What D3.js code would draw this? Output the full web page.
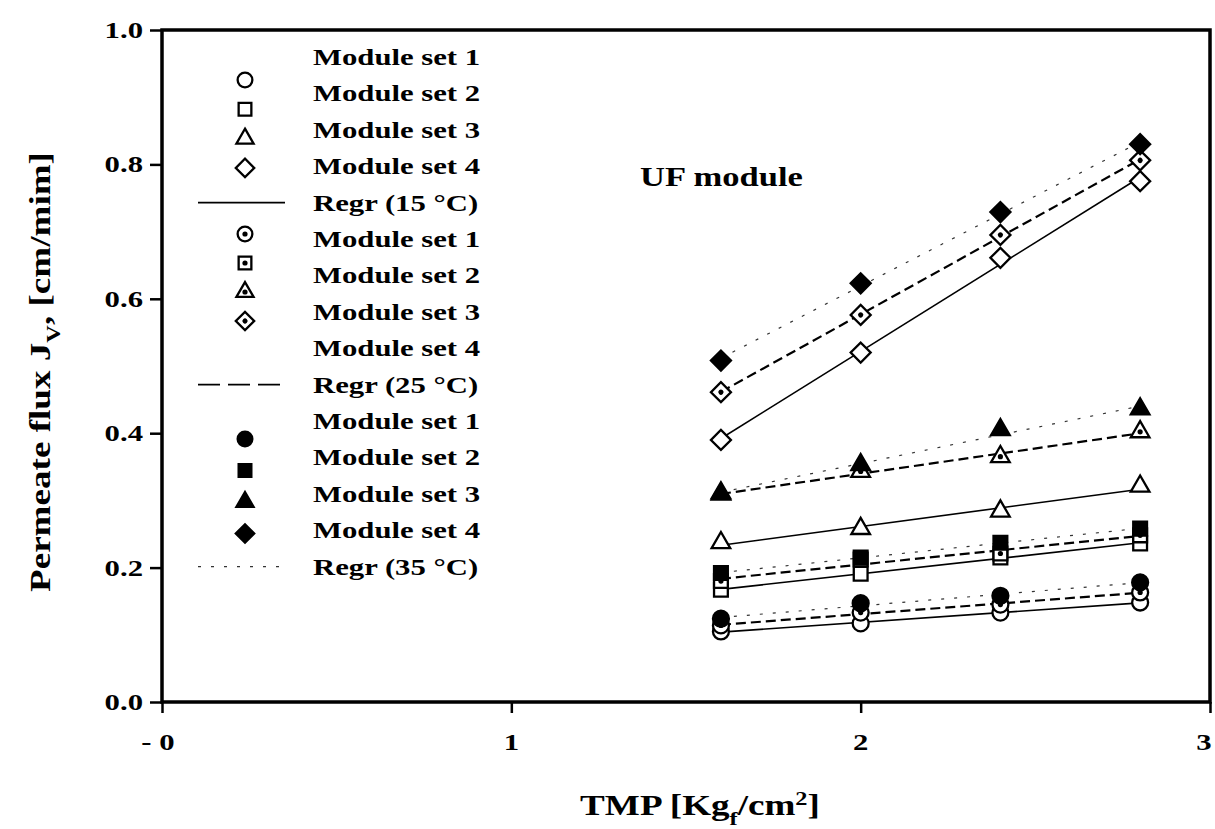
<!DOCTYPE html>
<html>
<head>
<meta charset="utf-8">
<script src="https://cdn.jsdelivr.net/npm/d3@7"></script>
<style>
  body { margin: 0; background: #fff; }
  svg { display: block; }
  text { font-family: "Liberation Serif", "Times New Roman", serif; font-weight: bold; fill: #000; }
</style>
</head>
<body>
<svg width="1215" height="829"></svg>
<script>
// TMP values (Kgf/cm2) where flux was measured
const tmp = [1.6, 2.0, 2.4, 2.8];
const moduleNames = ["Module set 1", "Module set 2", "Module set 3", "Module set 4"];
const tempNames = ["15", "25", "35"];

// permeate flux, one row per module set
const flux15 = [
  [0.105, 0.117, 0.133, 0.148],
  [0.167, 0.191, 0.215, 0.236],
  [0.237, 0.258, 0.284, 0.321],
  [0.390, 0.520, 0.661, 0.775]
];
const flux25 = [
  [0.114, 0.133, 0.145, 0.163],
  [0.180, 0.212, 0.221, 0.248],
  [0.309, 0.343, 0.365, 0.402],
  [0.461, 0.576, 0.695, 0.806]
];
const flux35 = [
  [0.124, 0.147, 0.158, 0.178],
  [0.192, 0.215, 0.237, 0.258],
  [0.311, 0.353, 0.405, 0.436],
  [0.508, 0.623, 0.729, 0.830]
];
const xTicks = [0, 1, 2, 3];
const yTicks = [0, 0.2, 0.4, 0.6, 0.8, 1.0];

const STRETCH = 1.28; // the figure's lettering is wide
const svg = d3.select("svg");

const x = d3.scaleLinear().domain([0, 3]).range([162, 1210]);
const y = d3.scaleLinear().domain([0, 1]).range([702, 30]);

function label(g, px, py, extra) {
  return g.append("text")
    .attr("transform", "translate(" + px + "," + py + ")" + (extra || "") + " scale(" + STRETCH + ",1)");
}

// regression line y = a + b*x
function fit(xs, ys) {
  const mx = d3.mean(xs), my = d3.mean(ys);
  let sxy = 0, sxx = 0;
  xs.forEach((v, i) => { sxy += (v - mx) * (ys[i] - my); sxx += (v - mx) * (v - mx); });
  const b = sxy / sxx;
  return { a: my - b * mx, b: b };
}

const symbolTypes = [d3.symbolCircle, d3.symbolSquare, d3.symbolTriangle, d3.symbolSquare];
const symbolSizes = [200, 190, 150, 200];
const symbolRot = [0, 0, 0, 45];
const lineStyles = [
  { dash: null, width: 1.6, color: "#000" },
  { dash: "10,5", width: 2.2, color: "#000" },
  { dash: "3,10", width: 1.2, color: "#333" }
];
const legendDash = [null, "22,8", "3,10"];

function drawMarker(g, cx, cy, s, t, size) {
  const sym = d3.symbol().type(symbolTypes[s]).size(size || symbolSizes[s]);
  const m = g.append("g").attr("transform", "translate(" + cx + "," + cy + ") rotate(" + symbolRot[s] + ")");
  m.append("path").attr("d", sym())
    .attr("fill", t === 2 ? "#000" : "#fff")
    .attr("stroke", "#000")
    .attr("stroke-width", 2.3);
  if (t === 1) {
    m.append("circle").attr("r", 2.6).attr("fill", "#000");
  }
}

// frame
svg.append("rect")
  .attr("x", x(0)).attr("y", y(1))
  .attr("width", x(3) - x(0)).attr("height", y(0) - y(1))
  .attr("fill", "none").attr("stroke", "#000").attr("stroke-width", 3.5);

// axes (ticks only, labels drawn below with the wide lettering)
const yAxis = svg.append("g").attr("transform", "translate(" + x(0) + ",0)")
  .call(d3.axisLeft(y).tickValues(yTicks).tickSize(12).tickFormat(""));
const xAxis = svg.append("g").attr("transform", "translate(0," + y(0) + ")")
  .call(d3.axisBottom(x).tickValues(xTicks).tickSize(11).tickFormat(""));
[yAxis, xAxis].forEach(a => {
  a.select(".domain").remove();
  a.selectAll("line").attr("stroke-width", 2.5);
});

yTicks.forEach(t => {
  label(svg, 143, y(t) + 8).attr("text-anchor", "end").style("font-size", "24px").text(d3.format(".1f")(t));
});
xTicks.forEach(t => {
  const shift = t === 0 ? -4 : (t === 3 ? -6 : 0);
  label(svg, x(t) + shift, 750).attr("text-anchor", "middle").style("font-size", "24px")
    .text(t === 0 ? "- 0" : t);
});

// axis titles
const yt = label(svg, 50, 372, " rotate(-90)").attr("text-anchor", "middle").style("font-size", "29px");
yt.append("tspan").text("Permeate flux J");
yt.append("tspan").attr("baseline-shift", "sub").style("font-size", "19px").text("V");
yt.append("tspan").text(", [cm/mim]");

const xt = label(svg, 700, 815).attr("text-anchor", "middle").style("font-size", "29px");
xt.append("tspan").text("TMP [Kg");
xt.append("tspan").attr("baseline-shift", "sub").style("font-size", "19px").text("f");
xt.append("tspan").text("/cm");
xt.append("tspan").attr("baseline-shift", "super").style("font-size", "19px").text("2");
xt.append("tspan").text("]");

label(svg, 640, 186).style("font-size", "27px").text("UF module");

// regression lines then points
const allFlux = [flux15, flux25, flux35];
const plot = svg.append("g");
allFlux.forEach((set, t) => {
  set.forEach(vals => {
    const f = fit(tmp, vals);
    const x0 = tmp[0], x1 = tmp[tmp.length - 1];
    plot.append("line")
      .attr("x1", x(x0)).attr("y1", y(f.a + f.b * x0))
      .attr("x2", x(x1)).attr("y2", y(f.a + f.b * x1))
      .attr("stroke", lineStyles[t].color)
      .attr("stroke-width", lineStyles[t].width)
      .attr("stroke-dasharray", lineStyles[t].dash);
  });
});
allFlux.forEach((set, t) => {
  set.forEach((vals, s) => {
    vals.forEach((v, i) => drawMarker(plot, x(tmp[i]), y(v), s, t));
  });
});

// legend: text rows evenly spaced, symbols packed a little tighter
const legend = svg.append("g");
const rowY = i => 57 + 36.4 * i;
const symStart = [80, 234, 439];
const symStep = [29.3, 29, 31.5];
let row = 0;
tempNames.forEach((tn, t) => {
  moduleNames.forEach((mn, s) => {
    label(legend, 313, rowY(row) + 8).style("font-size", "24px").text(mn);
    drawMarker(legend, 245, symStart[t] + symStep[t] * s, s, t, symbolSizes[s] * 0.85);
    row++;
  });
  legend.append("line")
    .attr("x1", 198).attr("x2", 285)
    .attr("y1", rowY(row)).attr("y2", rowY(row))
    .attr("stroke", lineStyles[t].color)
    .attr("stroke-width", t === 2 ? 1.2 : 1.8)
    .attr("stroke-dasharray", legendDash[t]);
  label(legend, 313, rowY(row) + 8).style("font-size", "24px").text("Regr (" + tn + " \u00B0C)");
  row++;
});
</script>
</body>
</html>
